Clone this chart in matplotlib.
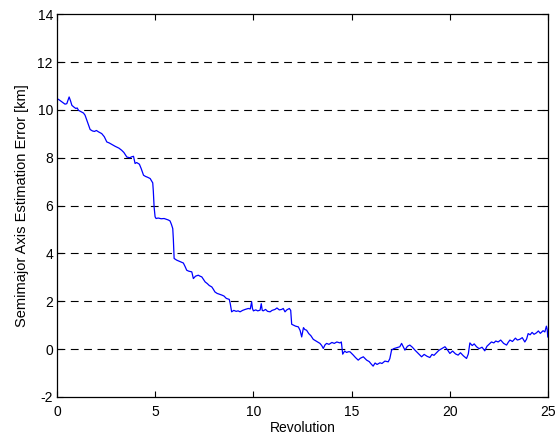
import matplotlib
matplotlib.use("Agg")
import matplotlib.pyplot as plt

plt.rcParams['font.family'] = ['Liberation Sans', 'DejaVu Sans']
plt.rcParams['axes.unicode_minus'] = False

# revolution number and semimajor axis error (km)
rev = [0.00, 0.10, 0.20, 0.32, 0.40, 0.49, 0.55, 0.61, 0.68, 0.75, 0.85, 0.95, 1.02, 1.09,
       1.20, 1.34, 1.42, 1.51, 1.60, 1.68, 1.80, 1.90, 2.00, 2.11, 2.20, 2.27, 2.40, 2.53,
       2.65, 2.80, 2.95, 3.05, 3.15, 3.29, 3.40, 3.55, 3.70, 3.80, 3.89, 3.97, 4.05, 4.19,
       4.28, 4.40, 4.50, 4.62, 4.74, 4.80, 4.87, 4.90, 4.94, 4.99, 5.04, 5.15, 5.30, 5.45,
       5.58, 5.66, 5.75, 5.82, 5.89, 5.92, 5.96, 6.09, 6.20, 6.32, 6.43, 6.52, 6.60, 6.70,
       6.86, 6.94, 7.05, 7.19, 7.28, 7.37, 7.45, 7.54, 7.65, 7.75, 7.88, 7.96, 8.04, 8.15,
       8.25, 8.39, 8.50, 8.62, 8.77, 8.82, 8.89, 9.00, 9.12, 9.22, 9.32, 9.45, 9.58, 9.74,
       9.84, 9.91, 9.95, 10.00, 10.12, 10.22, 10.34, 10.40, 10.45, 10.50, 10.62, 10.72,
       10.85, 10.95, 11.10, 11.20, 11.32, 11.44, 11.52, 11.61, 11.70, 11.83, 11.90, 11.95,
       12.05, 12.15, 12.29, 12.38, 12.46, 12.55, 12.62, 12.71, 12.82, 12.93, 13.05, 13.15,
       13.28, 13.39, 13.48, 13.56, 13.65, 13.73, 13.85, 14.00, 14.12, 14.25, 14.41, 14.48,
       14.55, 14.65, 14.75, 14.83, 14.92, 15.09, 15.20, 15.34, 15.45, 15.60, 15.70, 15.77,
       15.90, 16.00, 16.10, 16.20, 16.30, 16.45, 16.55, 16.70, 16.87, 16.95, 17.04, 17.15,
       17.30, 17.46, 17.55, 17.72, 17.85, 17.97, 18.10, 18.23, 18.40, 18.57, 18.70, 18.85,
       18.99, 19.10, 19.20, 19.33, 19.45, 19.60, 19.76, 19.88, 20.01, 20.15, 20.30, 20.43,
       20.55, 20.70, 20.86, 20.95, 21.03, 21.15, 21.25, 21.37, 21.50, 21.65, 21.79, 21.90,
       22.00, 22.13, 22.25, 22.35, 22.47, 22.60, 22.75, 22.90, 22.98, 23.07, 23.20, 23.35,
       23.45, 23.57, 23.70, 23.83, 23.92, 24.00, 24.10, 24.20, 24.30, 24.42, 24.52, 24.62,
       24.76, 24.85, 24.93, 24.97, 25.00]
err = [10.47, 10.42, 10.36, 10.29, 10.24, 10.26, 10.40, 10.54, 10.38, 10.19, 10.12, 10.06, 10.08, 9.98,
       9.93, 9.87, 9.78, 9.57, 9.36, 9.18, 9.12, 9.10, 9.14, 9.08, 9.04, 9.01, 8.88, 8.66,
       8.62, 8.55, 8.48, 8.44, 8.40, 8.31, 8.22, 8.03, 8.00, 8.04, 8.06, 7.76, 7.80, 7.73,
       7.55, 7.27, 7.22, 7.18, 7.13, 7.05, 6.95, 6.60, 5.94, 5.53, 5.46, 5.48, 5.45, 5.46,
       5.42, 5.40, 5.36, 5.22, 5.04, 4.60, 3.79, 3.72, 3.68, 3.64, 3.60, 3.45, 3.30, 3.26,
       3.23, 2.95, 3.05, 3.09, 3.05, 3.02, 2.92, 2.81, 2.74, 2.66, 2.60, 2.50, 2.39, 2.33,
       2.30, 2.26, 2.22, 2.12, 2.08, 1.90, 1.56, 1.62, 1.58, 1.60, 1.56, 1.62, 1.66, 1.70,
       1.68, 1.98, 1.70, 1.60, 1.64, 1.60, 1.63, 1.90, 1.62, 1.60, 1.66, 1.58,
       1.56, 1.62, 1.66, 1.72, 1.64, 1.66, 1.70, 1.56, 1.64, 1.70, 1.62, 1.04,
       1.00, 0.96, 0.93, 0.78, 0.51, 0.90, 0.82, 0.79, 0.65, 0.56, 0.41, 0.36,
       0.30, 0.24, 0.15, 0.03, 0.18, 0.24, 0.20, 0.28, 0.24, 0.30, 0.26, 0.30,
       -0.21, -0.08, -0.14, -0.11, -0.11, -0.25, -0.35, -0.46, -0.38, -0.32, -0.40, -0.46,
       -0.52, -0.62, -0.71, -0.58, -0.64, -0.57, -0.60, -0.50, -0.53, -0.40, -0.04, 0.02,
       0.06, 0.10, 0.24, -0.04, 0.12, 0.17, 0.08, -0.04, -0.18, -0.32, -0.22, -0.30,
       -0.35, -0.22, -0.26, -0.15, -0.05, 0.02, 0.10, -0.02, -0.18, -0.08, -0.20, -0.25,
       -0.15, -0.28, -0.39, -0.20, 0.26, 0.15, 0.22, 0.10, 0.02, 0.08, -0.07, 0.12,
       0.20, 0.30, 0.26, 0.34, 0.30, 0.38, 0.24, 0.17, 0.28, 0.38, 0.32, 0.46,
       0.38, 0.41, 0.48, 0.30, 0.42, 0.65, 0.60, 0.70, 0.62, 0.68, 0.76, 0.66,
       0.77, 0.72, 0.96, 0.82, 0.51]

xticks = [0, 5, 10, 15, 20, 25]
yticks = [-2, 0, 2, 4, 6, 8, 10, 12, 14]

fig = plt.figure(figsize=(5.55, 4.41), dpi=100)
ax = fig.add_axes([0.103, 0.0998, 0.884, 0.868])

for yv in yticks[1:-1]:
    ax.axhline(yv, color='black', linewidth=0.8, linestyle=(0, (7, 5)), zorder=1)

ax.plot(rev, err, color='#0000ff', linewidth=0.9, zorder=2)

ax.set_xlim(0, 25)
ax.set_ylim(-2, 14)
ax.set_xticks(xticks)
ax.set_yticks(yticks)
ax.tick_params(direction='in', length=4, width=0.8, labelsize=10,
               top=True, right=True)
ax.tick_params(axis='x', pad=6)
ax.tick_params(axis='y', pad=3)
for sp in ax.spines.values():
    sp.set_linewidth(0.9)

ax.set_xlabel('Revolution', fontsize=10, labelpad=1)
ax.set_ylabel('Semimajor Axis Estimation Error [km]', fontsize=10.5, labelpad=6)

fig.savefig('out.png', dpi=100)
